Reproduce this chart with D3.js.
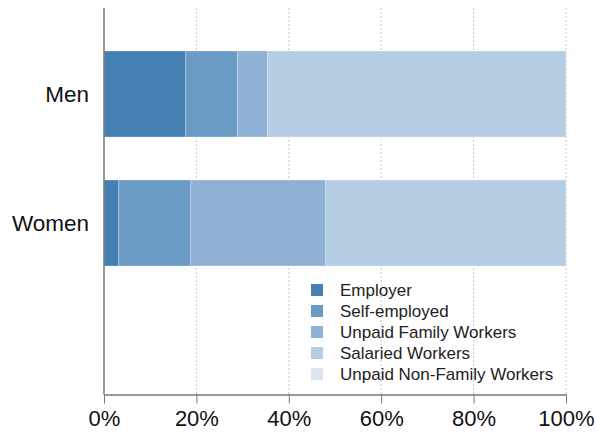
<!DOCTYPE html>
<html>
<head>
<meta charset="utf-8">
<script src="https://cdn.jsdelivr.net/npm/d3@7"></script>
<style>
  html, body { margin: 0; padding: 0; background: #fff; }
  svg { display: block; font-family: "Liberation Sans", Arial, Helvetica, sans-serif; }
</style>
</head>
<body>
<svg id="chart" width="596" height="433"></svg>
<script>
const categories = ["Men", "Women"];
const seriesNames = ["Employer", "Self-employed", "Unpaid Family Workers", "Salaried Workers", "Unpaid Non-Family Workers"];
const employer = [17.7, 3.2];
const selfEmployed = [11.2, 15.6];
const unpaidFamily = [6.5, 29.2];
const salaried = [64.6, 52.0];
const unpaidNonFamily = [0.0, 0.0];
const tickValues = [0, 20, 40, 60, 80, 100];
const colors = ["#4580b3", "#6a9bc4", "#8fb1d5", "#b4cde2", "#dae6f1"];

const seriesValues = [employer, selfEmployed, unpaidFamily, salaried, unpaidNonFamily];
const rows = categories.map((c, i) => {
  const r = { category: c };
  seriesNames.forEach((s, j) => { r[s] = seriesValues[j][i]; });
  return r;
});
const stacked = d3.stack().keys(seriesNames)(rows);

const svg = d3.select("#chart");
const x = d3.scaleLinear().domain([0, 100]).range([104, 566]);
const y = d3.scaleBand().domain(categories).range([8, 309]).paddingInner(1/3).paddingOuter(1/3);
const axisY0 = 8, axisY1 = 394.5;

// gridlines
svg.append("g").selectAll("line").data(tickValues.filter(d => d > 0)).join("line")
  .attr("x1", d => x(d)).attr("x2", d => x(d))
  .attr("y1", axisY0).attr("y2", axisY1)
  .attr("stroke", "#c8c8c8").attr("stroke-width", 1).attr("stroke-dasharray", "2,2");

// bars
const color = d3.scaleOrdinal().domain(seriesNames).range(colors);
svg.append("g").selectAll("g").data(stacked).join("g")
  .attr("fill", d => color(d.key))
  .selectAll("rect").data(d => d).join("rect")
  .attr("x", d => x(d[0]))
  .attr("width", d => Math.max(0, x(d[1]) - x(d[0])))
  .attr("y", d => y(d.data.category))
  .attr("height", y.bandwidth())
  .attr("stroke", "#ffffff").attr("stroke-opacity", 0.35).attr("stroke-width", 0.8);

// x axis
const xAxis = svg.append("g").attr("transform", `translate(0,${axisY1})`)
  .call(d3.axisBottom(x).tickValues(tickValues).tickFormat(d => d + "%").tickSize(9).tickPadding(7).tickSizeOuter(0));
xAxis.select(".domain").attr("stroke", "#777").attr("stroke-width", 1.3);
xAxis.selectAll(".tick line").attr("stroke", "#777").attr("stroke-width", 1);
xAxis.selectAll(".tick text").attr("font-size", 22).attr("fill", "#111")
  .attr("font-family", "'Liberation Sans', Arial, sans-serif");

// y axis
svg.append("line").attr("x1", x(0)).attr("x2", x(0)).attr("y1", axisY0).attr("y2", axisY1)
  .attr("stroke", "#777").attr("stroke-width", 1.5);
svg.append("g").selectAll("text").data(categories).join("text")
  .attr("x", 89).attr("y", d => y(d) + y.bandwidth() / 2)
  .attr("text-anchor", "end").attr("dominant-baseline", "central")
  .attr("font-size", 22.5).attr("fill", "#111").text(d => d);

// legend
const legend = svg.append("g").attr("transform", "translate(311,290)");
const li = legend.selectAll("g").data(seriesNames).join("g")
  .attr("transform", (d, i) => `translate(0,${i * 21})`);
li.append("rect").attr("x", 0).attr("y", -6).attr("width", 12).attr("height", 12)
  .attr("fill", d => color(d));
li.append("text").attr("x", 29).attr("y", 0).attr("dominant-baseline", "central")
  .attr("font-size", 17).attr("fill", "#222").text(d => d);
</script>
</body>
</html>
